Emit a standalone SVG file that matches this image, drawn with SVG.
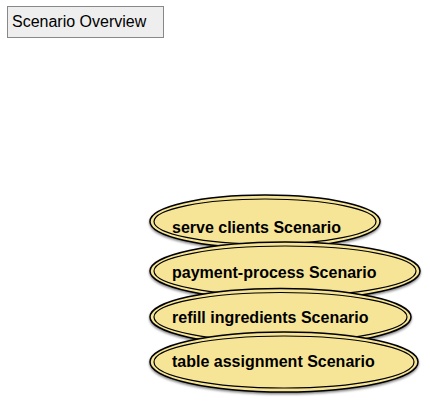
<svg xmlns="http://www.w3.org/2000/svg" width="430" height="403" viewBox="0 0 430 403">
<style>
.title{fill:#eeeeee;stroke:#888888;stroke-width:1}
.tt{font-family:"Liberation Sans",Arial,sans-serif;font-size:16px;fill:#000}
.uc{fill:#f7e597;stroke:#000;stroke-width:1.5}
.uci{fill:none;stroke:#000;stroke-width:1.2}
.lbl{font-family:"Liberation Sans",Arial,sans-serif;font-size:16px;font-weight:bold;fill:#000}
</style>
<defs>
<filter id="sh" x="-10%" y="-10%" width="120%" height="130%">
<feDropShadow dx="0" dy="1.5" stdDeviation="0.8" flood-color="#000" flood-opacity="0.5"/>
</filter>
</defs>
<g id="title">
<rect class="title" x="7.5" y="6.5" width="156" height="31"/>
<text class="tt" x="12" y="27">Scenario Overview</text>
</g>
<g id="connectors"></g>
<g id="serve-clients">
<ellipse class="uc" cx="265" cy="221.5" rx="115" ry="26.5" filter="url(#sh)"/>
<ellipse class="uci" cx="265" cy="221.5" rx="111" ry="22.5"/>
<text class="lbl" x="172" y="233">serve clients Scenario</text>
</g>
<g id="payment-process">
<ellipse class="uc" cx="285" cy="271" rx="135" ry="29" filter="url(#sh)"/>
<ellipse class="uci" cx="285" cy="271" rx="131" ry="25"/>
<text class="lbl" x="172" y="278">payment-process Scenario</text>
</g>
<g id="refill-ingredients">
<ellipse class="uc" cx="280.5" cy="317" rx="130.5" ry="28.5" filter="url(#sh)"/>
<ellipse class="uci" cx="280.5" cy="317" rx="126.5" ry="24.5"/>
<text class="lbl" x="172" y="323">refill ingredients Scenario</text>
</g>
<g id="table-assignment">
<ellipse class="uc" cx="284" cy="362" rx="134" ry="30" filter="url(#sh)"/>
<ellipse class="uci" cx="284" cy="362" rx="130" ry="26"/>
<text class="lbl" x="172" y="367">table assignment Scenario</text>
</g>
</svg>
